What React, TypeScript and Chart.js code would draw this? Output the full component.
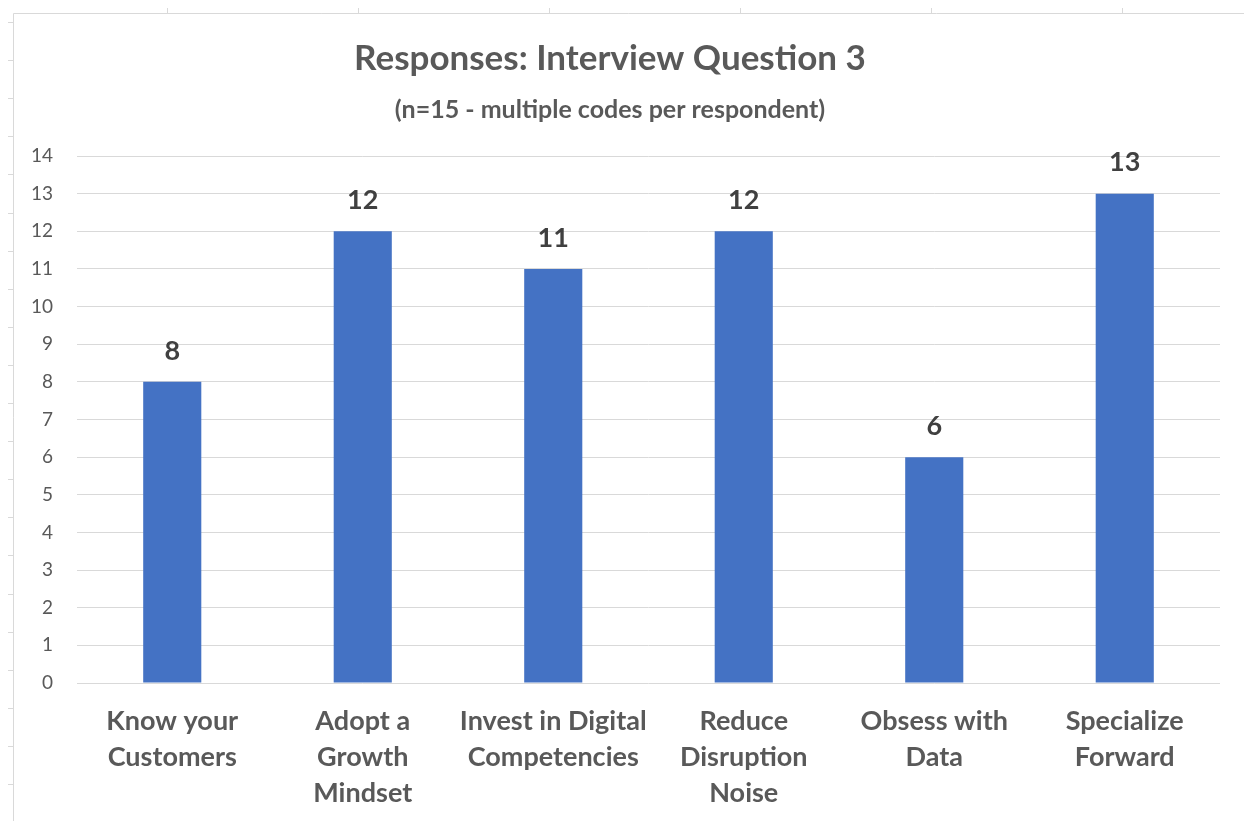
import React, { useEffect, useRef } from "react";
import { Chart, registerables } from "chart.js";

Chart.register(...registerables);

const categories: string[][] = [
  ["Know your", "Customers"],
  ["Adopt a", "Growth", "Mindset"],
  ["Invest in Digital", "Competencies"],
  ["Reduce", "Disruption", "Noise"],
  ["Obsess with", "Data"],
  ["Specialize", "Forward"],
];
const responses: number[] = [8, 12, 11, 12, 6, 13];
const yMin = 0;
const yMax = 14;

const titleText = "Responses: Interview Question 3";
const subtitleText = "(n=15 - multiple codes per respondent)";

const FONT = "Lato, 'Open Sans', sans-serif";
const BAR = "#4472C4";
const TEXT = "#595959";
const LABEL = "#404040";
const GRID = "#D9D9D9";

const framePlugin = {
  id: "frame",
  beforeDraw(chart: any) {
    const { ctx, width, height } = chart;
    ctx.save();
    ctx.fillStyle = "#ffffff";
    ctx.fillRect(0, 0, width, height);
    ctx.strokeStyle = GRID;
    ctx.lineWidth = 1;
    ctx.beginPath();
    ctx.moveTo(13.5, 13.5);
    ctx.lineTo(13.5, height);
    ctx.moveTo(13.5, 13.5);
    ctx.lineTo(width, 13.5);
    for (let x = 167; x < width; x += 191) {
      ctx.moveTo(x + 0.5, 8);
      ctx.lineTo(x + 0.5, 13);
    }
    for (let y = 22; y < height; y += 38.1) {
      ctx.moveTo(8, Math.round(y) + 0.5);
      ctx.lineTo(13, Math.round(y) + 0.5);
    }
    ctx.stroke();
    ctx.restore();
  },
};

const valueLabelPlugin = {
  id: "valueLabels",
  afterDatasetsDraw(chart: any) {
    const { ctx } = chart;
    const meta = chart.getDatasetMeta(0);
    ctx.save();
    ctx.font = `bold 27px ${FONT}`;
    ctx.fillStyle = LABEL;
    ctx.textAlign = "center";
    ctx.textBaseline = "middle";
    meta.data.forEach((bar: any, i: number) => {
      ctx.fillText(String(chart.data.datasets[0].data[i]), bar.x, bar.y - 31);
    });
    ctx.restore();
  },
};

export default function App() {
  const ref = useRef<HTMLCanvasElement>(null);
  useEffect(() => {
    if (!ref.current) return;
    const chart = new Chart(ref.current, {
      type: "bar",
      data: {
        labels: categories,
        datasets: [
          {
            data: responses,
            backgroundColor: BAR,
            borderWidth: 0,
            categoryPercentage: 1,
            barPercentage: 0.305,
          },
        ],
      },
      options: {
        animation: false,
        responsive: false,
        devicePixelRatio: 1,
        layout: { padding: { left: 0, right: 24, top: 0, bottom: 0 } },
        plugins: {
          legend: { display: false },
          tooltip: { enabled: false },
          title: {
            display: true,
            text: titleText,
            color: TEXT,
            font: { family: FONT, size: 35, weight: "bold", lineHeight: 1.2 },
            padding: { top: 38, bottom: 0 },
          },
          subtitle: {
            display: true,
            text: subtitleText,
            color: TEXT,
            font: { family: FONT, size: 25, weight: "bold", lineHeight: 1.2 },
            padding: { top: 15, bottom: 31 },
          },
        },
        scales: {
          x: {
            grid: { display: false },
            border: { display: false },
            ticks: {
              color: TEXT,
              font: { family: FONT, size: 27, weight: "bold", lineHeight: 36 / 27 },
              padding: 12,
              maxRotation: 0,
              autoSkip: false,
            },
            afterFit(scale: any) {
              scale.height = 138;
            },
          },
          y: {
            min: yMin,
            max: yMax,
            grid: { color: GRID, lineWidth: 1, drawTicks: false },
            border: { display: false },
            ticks: {
              stepSize: 1,
              color: TEXT,
              font: { family: FONT, size: 19 },
              padding: 24,
            },
            afterFit(scale: any) {
              scale.width = 77;
            },
          },
        },
      },
      plugins: [framePlugin, valueLabelPlugin],
    });
    return () => chart.destroy();
  }, []);
  return (
    <div style={{ position: "absolute", left: 0, top: 0, width: 1244, height: 821, background: "#fff" }}>
      <canvas ref={ref} width={1244} height={821} style={{ width: 1244, height: 821, display: "block" }} />
    </div>
  );
}
